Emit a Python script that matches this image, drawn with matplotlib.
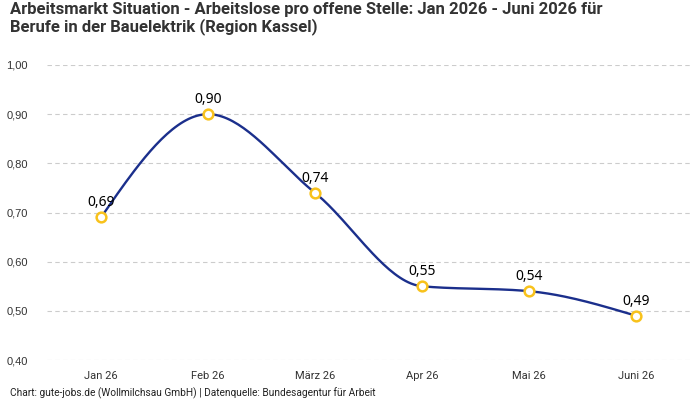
import numpy as np
import matplotlib
matplotlib.use("Agg")
import matplotlib.pyplot as plt

months = ["Jan 26", "Feb 26", "März 26", "Apr 26", "Mai 26", "Juni 26"]
values = [0.69, 0.90, 0.74, 0.55, 0.54, 0.49]
y_ticks = [0.40, 0.50, 0.60, 0.70, 0.80, 0.90, 1.00]

title = ("Arbeitsmarkt Situation - Arbeitslose pro offene Stelle: Jan 2026 - Juni 2026 für\n"
         "Berufe in der Bauelektrik (Region Kassel)")
footer = "Chart: gute-jobs.de (Wollmilchsau GmbH) | Datenquelle: Bundesagentur für Arbeit"


def monotone_curve(x, y, n=40):
    # monotone cubic (like d3 curveMonotoneX) for the drawn line only
    x = np.asarray(x, float)
    y = np.asarray(y, float)
    h = np.diff(x)
    d = np.diff(y) / h
    m = np.zeros_like(y)
    for i in range(1, len(y) - 1):
        if d[i - 1] * d[i] <= 0:
            m[i] = 0
        else:
            p = (d[i - 1] * h[i] + d[i] * h[i - 1]) / (h[i - 1] + h[i])
            m[i] = np.sign(d[i]) * min(2 * abs(d[i - 1]), 2 * abs(d[i]), abs(p))
    m[0] = (3 * d[0] - m[1]) / 2
    m[-1] = (3 * d[-1] - m[-2]) / 2
    xs, ys = [], []
    for i in range(len(h)):
        t = np.linspace(0, 1, n)
        h00 = 2 * t**3 - 3 * t**2 + 1
        h10 = t**3 - 2 * t**2 + t
        h01 = -2 * t**3 + 3 * t**2
        h11 = t**3 - t**2
        xs.append(x[i] + t * h[i])
        ys.append(h00 * y[i] + h10 * h[i] * m[i] + h01 * y[i + 1] + h11 * h[i] * m[i + 1])
    return np.concatenate(xs), np.concatenate(ys)


fig = plt.figure(figsize=(7, 4), dpi=100)
ax = fig.add_axes([47.5 / 700, 0.1, 642 / 700, 0.7375])

xpos = np.arange(len(months))
cx, cy = monotone_curve(xpos, values)
ax.plot(cx, cy, color="#1b2f8c", lw=1.7, zorder=2)
ax.plot(xpos, values, "o", ms=7, mfc="white", mec="#f8c21c", mew=1.8, zorder=3)

for xi, v in zip(xpos, values):
    ax.annotate(f"{v:.2f}".replace(".", ","), (xi, v), xytext=(0, 5),
                textcoords="offset points", ha="center", va="bottom",
                fontsize=10, color="#000000", family="Noto Sans", fontweight="medium")

ax.set_xlim(-0.5, len(months) - 0.5)
ax.set_ylim(0.4, 1.0)
ax.set_yticks(y_ticks)
ax.set_yticklabels([f"{t:.2f}".replace(".", ",") for t in y_ticks],
                   fontsize=8, color="#333333", family="Liberation Sans")
ax.set_xticks(xpos)
ax.set_xticklabels(months, fontsize=8, color="#333333", family="Roboto")
ax.tick_params(length=0)
ax.tick_params(axis="y", pad=14)
ax.tick_params(axis="x", pad=8)
ax.grid(axis="y", color="#cccccc", ls=(0, (4, 3)), lw=0.8)
for s in ax.spines.values():
    s.set_visible(False)

fig.text(10 / 700, 1 - 2 / 400, title, ha="left", va="top", fontsize=12,
         fontweight="bold", color="#333333", family="Roboto", linespacing=1.1)
fig.text(10 / 700, 1 - 393 / 400, footer, ha="left", va="center", fontsize=7.3,
         color="#222222", family="Roboto")

fig.savefig("out.png", dpi=100)
